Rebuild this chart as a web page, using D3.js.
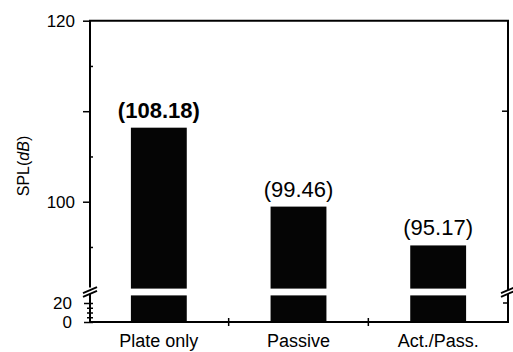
<!DOCTYPE html>
<html>
<head>
<meta charset="utf-8">
<script src="https://cdn.jsdelivr.net/npm/d3@7"></script>
<style>
  html, body { margin: 0; padding: 0; background: #fff; }
  svg { display: block; font-family: "Liberation Sans", Arial, sans-serif; }
</style>
</head>
<body>
<svg id="chart" width="513" height="352"></svg>
<script>
// ---- data ----
const categories = ["Plate only", "Passive", "Act./Pass."];
const values = [108.18, 99.46, 95.17];
const valueLabels = ["(108.18)", "(99.46)", "(95.17)"];
const boldLabel = [true, false, false];
const upperTickValues = [95, 100, 105, 110, 115, 120];
const upperTickLabels = [100, 120];
const lowerTickValues = [0, 5, 10, 15, 20];
const lowerTickLabels = [0, 20];
const upperDomain = [90.4, 120];
const lowerDomain = [0, 28];

// ---- layout ----
const svg = d3.select("#chart");
const mLeft = 89, mRight = 508, mTop = 20.7, mBottom = 322;
const breakTop = 288.6, breakBottom = 295.4;

const x = d3.scaleBand().domain(categories).range([mLeft, mRight])
  .paddingInner(0.6).paddingOuter(0.3);
const xStep = d3.scaleBand().domain(categories).range([mLeft, mRight]);
const yUp = d3.scaleLinear().domain(upperDomain).range([breakTop, mTop]);
const yLow = d3.scaleLinear().domain(lowerDomain).range([mBottom, breakBottom]);

// bars: lower piece + upper piece
const bars = svg.append("g");
bars.selectAll("rect.low").data(values).join("rect")
  .attr("class", "low")
  .attr("x", (d, i) => x(categories[i]))
  .attr("width", x.bandwidth())
  .attr("y", yLow(lowerDomain[1]))
  .attr("height", yLow(0) - yLow(lowerDomain[1]))
  .attr("fill", "#050505");
bars.selectAll("rect.up").data(values).join("rect")
  .attr("class", "up")
  .attr("x", (d, i) => x(categories[i]))
  .attr("width", x.bandwidth())
  .attr("y", d => yUp(d))
  .attr("height", d => yUp(upperDomain[0]) - yUp(d))
  .attr("fill", "#050505");

// value labels
svg.append("g").selectAll("text").data(values).join("text")
  .attr("x", (d, i) => x(categories[i]) + x.bandwidth() / 2)
  .attr("y", d => yUp(d) - 10)
  .attr("text-anchor", "middle")
  .attr("font-size", 22)
  .attr("font-weight", (d, i) => boldLabel[i] ? "bold" : "normal")
  .attr("fill", "#000")
  .text((d, i) => valueLabels[i]);

// frame
const frame = svg.append("g").attr("stroke", "#000").attr("stroke-width", 2).attr("fill", "none");
frame.append("line").attr("x1", mLeft).attr("x2", mRight + 1).attr("y1", mTop).attr("y2", mTop);
frame.append("line").attr("x1", mRight).attr("x2", mRight).attr("y1", mTop).attr("y2", mBottom);
frame.append("line").attr("x1", mLeft).attr("x2", mRight + 1).attr("y1", mBottom).attr("y2", mBottom);

// left axis - upper part
const axUp = svg.append("g").attr("transform", `translate(${mLeft + 1},0)`)
  .call(d3.axisLeft(yUp).tickValues(upperTickValues)
    .tickSize(0).tickPadding(15)
    .tickFormat(d => upperTickLabels.includes(d) ? d : ""));
axUp.select(".domain").attr("stroke-width", 2).attr("d", `M0,${mTop}V${breakTop - 1}`);
axUp.selectAll(".tick line")
  .attr("x1", d => (d % 10 === 0) ? -7 : 0)
  .attr("x2", d => (d % 10 === 0) ? 0 : 3)
  .attr("stroke-width", 1.5);
axUp.selectAll(".tick text").attr("font-size", 17).attr("fill", "#000")
  .attr("font-family", "Liberation Sans, Arial, sans-serif");

// left axis - lower part
const axLow = svg.append("g").attr("transform", `translate(${mLeft + 1},0)`)
  .call(d3.axisLeft(yLow).tickValues(lowerTickValues)
    .tickSize(0).tickPadding(18)
    .tickFormat(d => lowerTickLabels.includes(d) ? d : ""));
axLow.select(".domain").attr("stroke-width", 2).attr("d", `M0,${breakBottom - 2}V${mBottom}`);
axLow.selectAll(".tick line")
  .attr("x1", d => (d % 20 === 0) ? -6 : -3)
  .attr("x2", 3)
  .attr("stroke-width", 1.5);
axLow.selectAll(".tick text").attr("font-size", 17).attr("fill", "#000")
  .attr("font-family", "Liberation Sans, Arial, sans-serif");

// right axis inward ticks
const rt = svg.append("g").attr("stroke", "#000").attr("stroke-width", 1.5);
[110].forEach(v => rt.append("line").attr("x1", mRight - 6).attr("x2", mRight).attr("y1", yUp(v)).attr("y2", yUp(v)));
[20].forEach(v => rt.append("line").attr("x1", mRight - 5).attr("x2", mRight).attr("y1", yLow(v)).attr("y2", yLow(v)));

// x axis ticks between categories
const xt = svg.append("g").attr("stroke", "#000").attr("stroke-width", 1.5);
categories.slice(1).forEach(c => {
  const xx = xStep(c);
  xt.append("line").attr("x1", xx).attr("x2", xx).attr("y1", mBottom - 4).attr("y2", mBottom + 4);
});

// x labels
svg.append("g").selectAll("text").data(categories).join("text")
  .attr("x", c => x(c) + x.bandwidth() / 2)
  .attr("y", 347)
  .attr("text-anchor", "middle")
  .attr("font-size", 18)
  .attr("fill", "#000")
  .text(c => c);

// axis break marks
function breakMark(cx) {
  const mid = (breakTop + breakBottom) / 2;
  const g = svg.append("g");
  g.append("polygon")
    .attr("points", `${cx - 7},${mid + 1} ${cx + 7},${mid - 5} ${cx + 7},${mid - 1} ${cx - 7},${mid + 5}`)
    .attr("fill", "#fff");
  [-1.8, 1.8].forEach(o => {
    g.append("line")
      .attr("x1", cx - 7).attr("y1", mid + 3 + o)
      .attr("x2", cx + 7).attr("y2", mid - 3 + o)
      .attr("stroke", "#000").attr("stroke-width", 1.8);
  });
}
breakMark(mLeft + 1);
breakMark(mRight);

// y label
const yl = svg.append("text")
  .attr("transform", `translate(29,166) rotate(-90)`)
  .attr("text-anchor", "middle")
  .attr("font-size", 16)
  .attr("fill", "#000");
yl.append("tspan").text("SPL(");
yl.append("tspan").attr("font-style", "italic").text("dB");
yl.append("tspan").text(")");
</script>
</body>
</html>
